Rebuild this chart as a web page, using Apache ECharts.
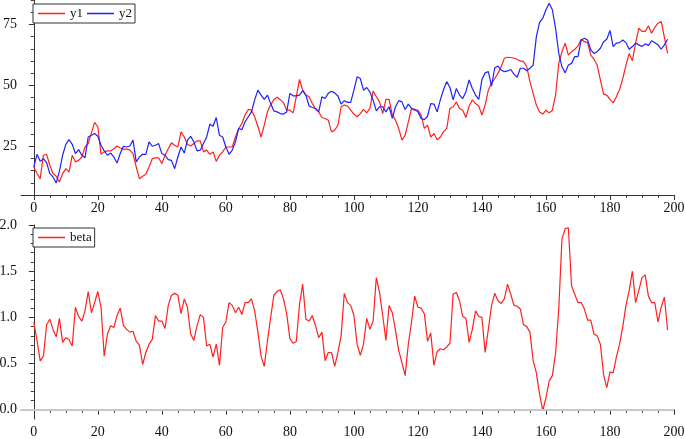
<!DOCTYPE html>
<html><head><meta charset="utf-8">
<script src="https://cdn.jsdelivr.net/npm/echarts@6/dist/echarts.min.js"></script>
<style>html,body{margin:0;padding:0;background:#fff}#c{width:685px;height:439px}</style>
</head><body><div id="c"></div>
<script>
const y1 = [16.5,13.8,11.7,21.3,21.7,17.2,13.8,12.7,10.3,13.8,
15.8,14.4,21.3,18.6,19.2,20.6,24.7,26.1,30.5,34.8,
33.0,21.7,22.7,23.1,23.1,24.0,25.1,24.3,23.8,23.8,
23.4,22.0,16.5,11.7,12.7,13.5,16.5,19.9,20.2,20.2,
17.9,21.3,24.0,26.4,25.4,24.7,30.9,28.8,25.8,25.1,
26.1,27.2,27.2,22.7,23.4,21.7,22.7,18.8,21.3,22.7,
24.7,24.7,24.7,28.8,32.3,34.3,37.8,40.1,39.8,37.1,
33.2,28.8,33.7,39.2,42.0,44.1,45.1,44.1,42.8,39.8,
39.8,38.7,45.3,52.4,48.0,46.0,45.3,42.5,40.5,39.1,
36.8,36.4,35.7,30.9,31.6,33.6,41.2,41.9,41.5,39.8,
38.2,37.1,38.4,40.1,38.7,40.5,47.6,45.3,43.2,38.4,
44.2,44.2,37.8,35.7,32.3,27.5,29.5,35.0,40.5,39.8,
39.8,37.8,32.3,33.7,28.8,30.2,27.7,28.8,30.9,32.3,
40.5,41.2,43.2,40.5,39.8,36.8,41.5,44.0,42.5,41.5,
37.8,41.9,48.0,50.8,52.8,54.9,57.6,61.1,61.5,61.4,
61.1,60.7,60.0,59.7,57.6,51.5,46.7,41.9,39.1,38.2,
39.8,38.7,39.8,46.0,59.0,63.8,67.3,62.4,63.8,64.8,
66.1,68.9,67.9,67.5,62.4,60.7,58.3,52.2,46.4,46.0,
44.2,42.8,45.3,48.3,52.8,58.3,63.1,60.1,67.3,73.4,
72.1,72.1,74.4,71.4,73.8,75.5,76.2,69.7,63.1];

const y2 = [16.5,21.7,18.8,19.9,18.3,13.8,12.4,9.9,14.8,21.3,
25.8,27.7,25.8,22.0,23.6,21.3,20.3,28.8,29.5,30.2,
29.1,25.4,23.1,21.3,22.2,20.6,18.1,22.0,25.0,24.7,
25.1,27.5,18.6,20.6,21.7,21.7,26.8,25.0,25.4,26.1,
22.0,21.3,19.5,19.2,15.8,20.6,24.7,22.2,27.5,29.1,
26.8,23.1,23.4,26.1,28.8,34.1,33.2,36.8,29.5,28.8,
24.7,21.7,23.4,26.8,32.3,31.8,35.0,37.1,39.1,44.0,
48.0,46.0,44.2,46.0,42.5,39.5,39.1,38.4,38.2,39.1,
46.7,45.7,45.7,46.0,47.8,46.0,41.5,40.9,40.5,39.1,
45.3,44.6,46.7,47.6,46.9,45.6,42.3,43.7,43.0,43.0,
48.0,53.5,52.8,48.0,49.1,47.3,43.9,39.5,41.2,41.2,
39.1,41.2,36.4,41.2,43.7,43.2,40.1,42.3,40.5,40.1,
39.1,36.4,35.9,37.3,42.5,42.3,39.1,44.0,48.3,51.5,
49.1,44.0,48.7,46.0,44.6,47.4,52.2,48.7,46.0,44.2,
52.4,55.1,55.6,49.7,57.2,57.9,56.3,55.6,55.9,56.5,
54.6,53.3,57.0,57.0,56.0,57.0,58.3,70.0,75.8,77.5,
81.0,83.7,81.0,73.4,63.1,57.6,55.1,58.3,59.0,61.8,
61.8,68.6,69.3,68.6,64.5,63.1,63.8,65.2,67.9,68.9,
72.5,65.9,67.3,67.5,68.6,67.5,64.8,65.9,67.3,66.6,
65.9,67.0,66.3,68.3,67.5,66.6,64.8,66.6,68.9];

const beta = [0.95,0.75,0.53,0.58,0.92,0.98,0.87,0.79,0.99,0.73,
0.78,0.76,0.69,1.11,1.01,0.96,1.07,1.28,1.05,1.16,
1.28,1.11,0.58,0.82,0.91,0.89,1.02,1.10,0.91,0.87,
0.84,0.85,0.74,0.70,0.49,0.62,0.71,0.76,1.02,0.96,
0.96,0.88,1.13,1.24,1.26,1.24,1.04,1.20,1.11,0.82,
0.75,0.91,1.03,1.00,0.69,0.71,0.57,0.71,0.48,0.89,
0.95,1.16,1.13,1.05,1.11,1.03,1.16,1.16,1.20,1.07,
0.84,0.58,0.47,0.75,1.00,1.24,1.28,1.30,1.20,1.04,
0.77,0.72,0.74,1.14,1.36,0.98,0.96,1.02,0.91,0.78,
0.84,0.53,0.62,0.62,0.47,0.62,0.80,1.26,1.16,1.13,
1.02,0.71,0.59,0.71,0.99,0.87,0.96,1.43,1.27,1.02,
0.75,1.13,1.05,0.86,0.64,0.51,0.37,0.71,0.95,1.23,
1.11,1.10,1.04,0.74,0.83,0.48,0.63,0.66,0.65,0.68,
0.72,1.25,1.27,1.18,1.01,0.99,0.73,0.87,1.07,1.01,
1.00,0.62,0.87,1.13,1.26,1.18,1.15,1.20,1.36,1.25,
1.13,1.12,1.09,0.92,0.90,0.84,0.53,0.40,0.17,-0.01,
0.13,0.31,0.37,0.61,1.09,1.85,1.96,1.97,1.34,1.25,
1.16,1.16,1.09,0.97,0.97,0.82,0.80,0.71,0.38,0.24,
0.41,0.40,0.57,0.71,0.90,1.13,1.29,1.50,1.16,1.29,
1.43,1.46,1.23,1.16,1.16,0.95,1.11,1.22,0.86];

const xMajor = [0,20,40,60,80,100,120,140,160,180,200];
const xMinor = [0,5,10,15,20,25,30,35,40,45,50,55,60,65,70,75,80,85,90,95,100,105,110,115,120,125,130,135,140,145,150,155,160,165,170,175,180,185,190,195,200];
const topYMajor = [25,50,75];
const topYMinor = [10,15,20,25,30,35,40,45,50,55,60,65,70,75,80,85];
const botYMajor = [0.0,0.5,1.0,1.5,2.0];
const botYMinor = [0,0.1,0.2,0.3,0.4,0.5,0.6,0.7,0.8,0.9,1.0,1.1,1.2,1.3,1.4,1.5,1.6,1.7,1.8,1.9,2.0];

const FONT = 'Liberation Serif';
const AX = '#333';
const RED = '#ff2020';
const BLUE = '#2020ff';

function xAxes(g) {
  return [
    {type:'value', gridIndex:g, position:'bottom', min:-4, max:200,
     axisLine:{lineStyle:{color:AX,width:1}},
     axisTick:{customValues:xMajor, length:5, lineStyle:{color:AX}},
     axisLabel:{customValues:xMajor, fontFamily:FONT, fontSize:14, color:'#111', margin:6},
     splitLine:{show:false}},
    {type:'value', gridIndex:g, position:'bottom', min:-4, max:200,
     axisLine:{show:false},
     axisTick:{customValues:xMinor, length:3, lineStyle:{color:AX}},
     axisLabel:{show:false}, splitLine:{show:false}}
  ];
}
function yAxes(g, min, max, major, minor, fmt) {
  return [
    {type:'value', gridIndex:g, position:'left', min:min, max:max,
     axisLine:{show:true, lineStyle:{color:AX,width:1}},
     axisTick:{show:true, customValues:major, length:5, lineStyle:{color:AX}},
     axisLabel:{customValues:major, fontFamily:FONT, fontSize:14, color:'#111', margin:4, formatter:fmt},
     splitLine:{show:false}},
    {type:'value', gridIndex:g, position:'left', min:min, max:max,
     axisLine:{show:false},
     axisTick:{show:true, customValues:minor, length:3, lineStyle:{color:AX}},
     axisLabel:{show:false}, splitLine:{show:false}}
  ];
}
const legendBase = {
  orient:'horizontal', left:33, borderColor:'#333', borderWidth:1, backgroundColor:'#fff',
  padding:[3,3,3,5], itemGap:4, itemWidth:27, itemHeight:1.5, icon:'rect',
  textStyle:{fontFamily:FONT, fontSize:13, color:'#111'}
};
const pairs = arr => arr.map((v,i)=>[i,v]);

const chart = echarts.init(document.getElementById('c'), null, {renderer:'canvas'});
chart.setOption({
  animation:false,
  backgroundColor:'#fff',
  grid:[
    {left:21, right:11, top:0, height:195, outerBoundsMode:'none', containLabel:false},
    {left:21, right:11, top:225, height:194, outerBoundsMode:'none', containLabel:false}
  ],
  xAxis:[...xAxes(0), ...xAxes(1)],
  yAxis:[...yAxes(0, 5, 85, topYMajor, topYMinor, v=>String(v)),
         ...yAxes(1, -0.1, 2.0, botYMajor, botYMinor, v=>v.toFixed(1))],
  legend:[
    Object.assign({}, legendBase, {top:4, data:['y1','y2']}),
    Object.assign({}, legendBase, {top:228, data:['beta']})
  ],
  series:[
    {name:'y1', type:'line', xAxisIndex:0, yAxisIndex:0, data:pairs(y1), symbol:'none',
     lineStyle:{color:RED, width:1.2}, itemStyle:{color:RED}},
    {name:'y2', type:'line', xAxisIndex:0, yAxisIndex:0, data:pairs(y2), symbol:'none',
     lineStyle:{color:BLUE, width:1.2}, itemStyle:{color:BLUE}},
    {name:'beta', type:'line', xAxisIndex:2, yAxisIndex:2, data:pairs(beta), symbol:'none',
     lineStyle:{color:RED, width:1.2}, itemStyle:{color:RED},
     markLine:{silent:true, symbol:'none', label:{show:false},
       lineStyle:{color:'#c8c8c8', width:2, type:'solid'}, emphasis:{disabled:true},
       data:[{yAxis:0}]}}
  ]
});
</script>
</body></html>
